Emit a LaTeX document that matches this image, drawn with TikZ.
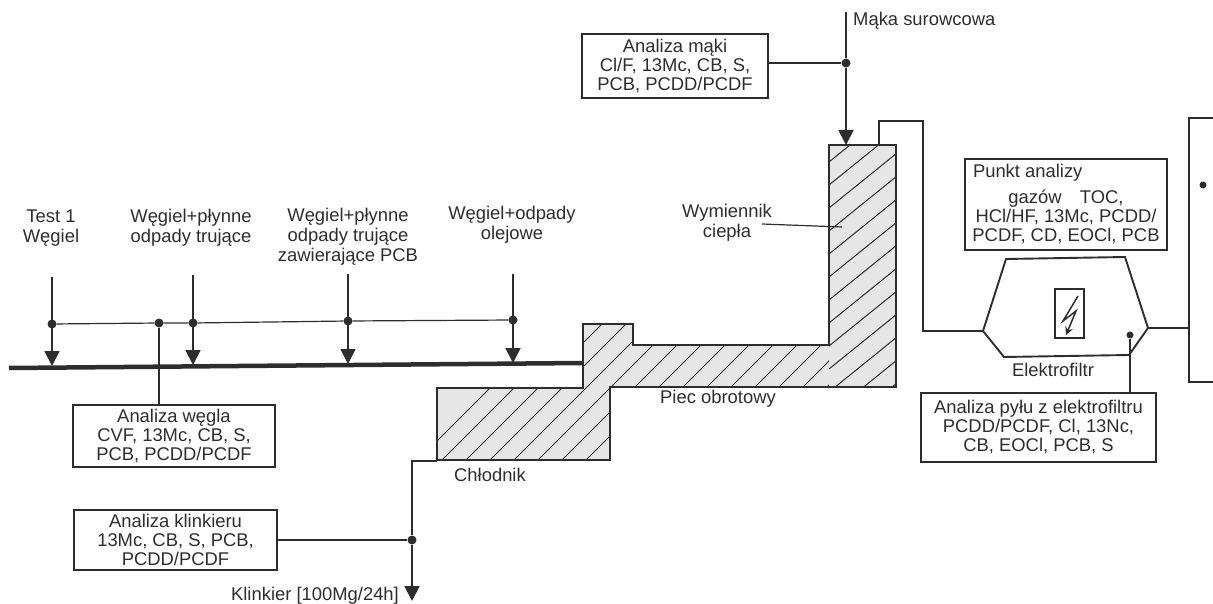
\documentclass[tikz,border=0pt]{standalone}
\usepackage{fontspec}
\setmainfont{Liberation Sans}
\definecolor{scanink}{RGB}{45,45,45}
\definecolor{scanfill}{RGB}{230,230,230}
\usetikzlibrary{arrows.meta,positioning}

\begin{document}
\begin{tikzpicture}[
  x=1pt,y=-1pt,
  anbox/.style={draw=scanink,line width=1.8pt,align=center,inner sep=0pt,text=scanink,
    font=\fontsize{18.4}{19}\selectfont},
  lbl/.style={align=center,inner sep=0pt,text=scanink,font=\fontsize{18.4}{20}\selectfont},
  junct/.style={circle,fill=scanink,inner sep=0pt,minimum size=9pt},
  flowline/.style={line width=1.8pt,scanink},
  flowarrow/.style={-{Triangle[length=15pt,width=15pt]},line width=1.8pt,scanink},
  thinline/.style={line width=1.2pt,scanink},
  hatchline/.style={line width=1pt,scanink}
]
  \useasboundingbox (0,0) rectangle (1213,604);
  % Kiln body
  \fill[scanfill] (437,388) -- (583,388) -- (583,324) -- (633,324) -- (633,345) -- (829,345) -- (829,145)
    -- (896,145) -- (896,387) -- (610,387) -- (610,460) -- (437,460) -- cycle;
  \begin{scope}
    \clip (437,388) -- (583,388) -- (583,324) -- (633,324) -- (633,345) -- (829,345) -- (829,387)
      -- (610,387) -- (610,460) -- (437,460) -- cycle;
    \foreach \k in {-1,...,16}
      \draw[hatchline] ({442+24*\k},460) -- ({442+24*\k+200},260);
  \end{scope}
  \begin{scope}
    \clip (829,145) rectangle (896,387);
    \foreach \k in {-3,...,10}
      \draw[hatchline] (829,{208+23*\k}) -- (897,{208+23*\k-55});
  \end{scope}
  \draw[line width=2.2pt,scanink,line join=miter] (437,388) -- (583,388) -- (583,324) -- (633,324) -- (633,345) -- (829,345) -- (829,145)
    -- (896,145) -- (896,387) -- (610,387) -- (610,460) -- (437,460) -- cycle;

  % Fuel labels
  \node[lbl] (test) at (51,228) {Test 1\\Węgiel};
  \node[lbl] (fuelb) at (191,228) {Węgiel+płynne\\odpady trujące};
  \node[lbl] (fuelc) at (348,237) {Węgiel+płynne\\odpady trujące\\zawierające PCB};
  \node[lbl] (fueld) at (512,225) {Węgiel+odpady\\olejowe};
  % Fuel feed
  \coordinate (pipeL) at (9,368);
  \coordinate (pipeR) at (583,363);
  \draw[line width=4.5pt,scanink] (pipeL) -- (pipeR);
  \node[junct] (dota) at (52,324) {};
  \node[junct] (dotw) at (159,323) {};
  \node[junct] (dotb) at (193,323) {};
  \node[junct] (dotc) at (348,321) {};
  \node[junct] (dotd) at (513,320) {};
  \draw[thinline] (dota) -- (dotw) -- (dotb) -- (dotc) -- (dotd);
  \draw[flowarrow] (52,277) -- (52,366);
  \draw[flowarrow] (193,275) -- (193,365);
  \draw[flowarrow] (348,274) -- (348,364);
  \draw[flowarrow] (513,274) -- (513,363);

  % Analysis boxes
  \node[anbox,minimum width=202pt,minimum height=62pt] (wegiel) at (174,436) {Analiza węgla\\CVF, 13Mc, CB, S,\\PCB, PCDD/PCDF};
  \node[anbox,minimum width=203pt,minimum height=60pt] (klinkier) at (175.5,540) {Analiza klinkieru\\13Mc, CB, S, PCB,\\PCDD/PCDF};
  \node[anbox,minimum width=186pt,minimum height=64pt] (maka) at (675,66) {Analiza mąki\\Cl/F, 13Mc, CB, S,\\PCB, PCDD/PCDF};
  \node[anbox,minimum width=202pt,minimum height=91pt] (gazy) at (1066,204.5) {\makebox[186pt][l]{Punkt analizy}\\[7pt]gazów\quad TOC,\\HCl/HF, 13Mc, PCDD/\\PCDF, CD, EOCl, PCB};
  \node[anbox,minimum width=235pt,minimum height=69pt] (pyl) at (1038.5,427.5) {Analiza pyłu z elektrofiltru\\PCDD/PCDF, Cl, 13Nc,\\CB, EOCl, PCB, S};
  \draw[thinline] (dotw) -- (dotw |- wegiel.north);

  % Meal feed
  \coordinate (mealtop) at (846,12);
  \node[junct] (dotm) at (846,63) {};
  \node[lbl,anchor=west] (mealtxt) at (853,21) {Mąka surowcowa};
  \draw[flowline] (mealtop) -- (dotm);
  \draw[flowarrow] (dotm) -- (846,145);
  \draw[flowline] (maka.east |- dotm) -- (dotm);

  % Clinker outlet
  \coordinate (coolout) at (437,461);
  \coordinate (coolbend) at (412,461);
  \node[junct] (dotk) at (412,540) {};
  \node[lbl] (kliout) at (315,596) {Klinkier [100Mg/24h]};
  \draw[flowline] (coolout) -- (coolbend) -- (dotk);
  \draw[flowarrow] (dotk) -- (412,601);
  \draw[flowline] (klinkier.east) -- (dotk);

  % Precipitator
  \coordinate (filtL) at (983,331);
  \coordinate (filtR) at (1148,328);
  \draw[line width=1.9pt,scanink] (filtL) -- (1006,259) -- (1125,257) -- (filtR) -- (1129,355) -- (1004,357) -- cycle;
  \node[draw=scanink,line width=1.7pt,minimum width=29pt,minimum height=49pt,inner sep=0pt] (spark) at (1069.5,313.5) {};
  \draw[-{Stealth[length=8pt,width=8pt]},line width=1.5pt,scanink] (1078,296) -- (1063,321) -- (1076,311) -- (1066,335);
  \coordinate (gasup) at (879,145);
  \draw[flowline,line join=miter] (gasup) -- (879,121) -- (923,121) -- (923,331) -- (filtL);
  \node[junct,minimum size=7pt] (dotp) at (1130,335) {};
  \draw[thinline] (dotp) -- (dotp |- pyl.north);

  % Right unit
  \coordinate (stackT) at (1213,118);
  \coordinate (stackB) at (1213,382);
  \draw[flowline,line join=miter] (stackT) -- (1189,118) -- (1189,382) -- (stackB);
  \draw[thinline] (filtR) -- (1189,328);
  \node[junct,minimum size=7pt] (dots) at (1203,185) {};

  % Part names
  \node[lbl] (elek) at (1053,370) {Elektrofiltr};
  \node[lbl] (piec) at (718,399) {Piec obrotowy};
  \node[lbl] (chlod) at (490,475) {Chłodnik};
  \node[lbl] (wymn) at (727,223) {Wymiennik\\ciepła};
  \draw[thinline] (762,224) -- (842,227);
\end{tikzpicture}
\end{document}
